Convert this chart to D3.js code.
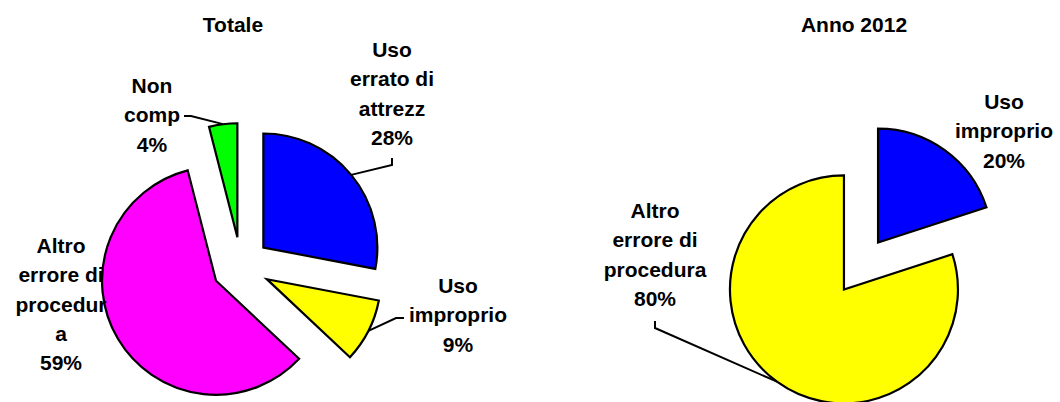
<!DOCTYPE html>
<html>
<head>
<meta charset="utf-8">
<script src="https://cdn.jsdelivr.net/npm/d3@7"></script>
<style>
  body { margin: 0; background: #fff; }
  text { font-family: "Liberation Sans", Arial, sans-serif; font-weight: bold; font-size: 21px; fill: #000; }
</style>
</head>
<body>
<div id="chart"></div>
<script>
// data
const totaleCats = ["Uso errato di attrezz", "Uso improprio", "Altro errore di procedura", "Non comp"];
const totaleValues = [28, 9, 59, 4];
const totaleLines = [["Uso", "errato di", "attrezz"], ["Uso", "improprio"], ["Altro", "errore di", "procedur", "a"], ["Non", "comp"]];
const totaleColors = ["#0000ff", "#ffff00", "#ff00ff", "#00ff00"];

const annoCats = ["Uso improprio", "Altro errore di procedura"];
const annoValues = [20, 80];
const annoLines = [["Uso", "improprio"], ["Altro", "errore di", "procedura"]];
const annoColors = ["#0000ff", "#ffff00"];

const width = 1060, height = 402;
const radius = 114, explode = 29, lineH = 29.3;

var svg = d3.select("#chart").append("svg")
    .attr("width", width)
    .attr("height", height);

// label layout: centre x, first baseline, leader start points (or null)
var totaleLayout = [
  { x: 392, y: 57, leader: [[392, 158], [392, 165]] },
  { x: 458, y: 293, leader: [[404, 318], [396, 318]] },
  { x: 61, y: 253, leader: null },
  { x: 152, y: 93, leader: [[184, 116], [191, 116]] }
];
var annoLayout = [
  { x: 1004, y: 109, leader: null },
  { x: 655, y: 218, leader: [[655, 321], [655, 328]] }
];

function drawPie(cx, cy, title, titleX, cats, values, lines, colors, layout) {
  var g = svg.append("g").attr("transform", "translate(" + cx + "," + cy + ")");
  var pie = d3.pie().sort(null).value(function(d){ return d; });
  var arcs = pie(values);
  var arc = d3.arc().innerRadius(0).outerRadius(radius);
  var off = d3.arc().innerRadius(explode).outerRadius(explode);
  var edge = d3.arc().innerRadius(radius).outerRadius(radius);

  svg.append("text").attr("x", titleX).attr("y", 32).attr("text-anchor", "middle").text(title);

  // labels go under the slices
  arcs.forEach(function(a, i){
    var lay = layout[i];
    var t = svg.append("text").attr("text-anchor", "middle");
    var all = lines[i].concat([values[i] + "%"]);
    all.forEach(function(s, k){
      t.append("tspan").attr("x", lay.x).attr("y", lay.y + k * lineH).text(s);
    });
    if (lay.leader) {
      var o = off.centroid(a), e = edge.centroid(a);
      var pts = lay.leader.concat([[cx + o[0] + e[0], cy + o[1] + e[1]]]);
      svg.append("path").attr("d", d3.line()(pts))
        .attr("fill", "none").attr("stroke", "#000").attr("stroke-width", 2);
    }
  });

  g.selectAll("path.slice").data(arcs).enter().append("path")
    .attr("class", "slice")
    .attr("d", arc)
    .attr("transform", function(d){ var c = off.centroid(d); return "translate(" + c[0] + "," + c[1] + ")"; })
    .attr("fill", function(d, i){ return colors[i]; })
    .attr("stroke", "#000")
    .attr("stroke-width", 2.2)
    .attr("stroke-linejoin", "miter");
}

drawPie(241, 266, "Totale", 233, totaleCats, totaleValues, totaleLines, totaleColors, totaleLayout);
drawPie(861, 266, "Anno 2012", 854, annoCats, annoValues, annoLines, annoColors, annoLayout);
</script>
</body>
</html>
